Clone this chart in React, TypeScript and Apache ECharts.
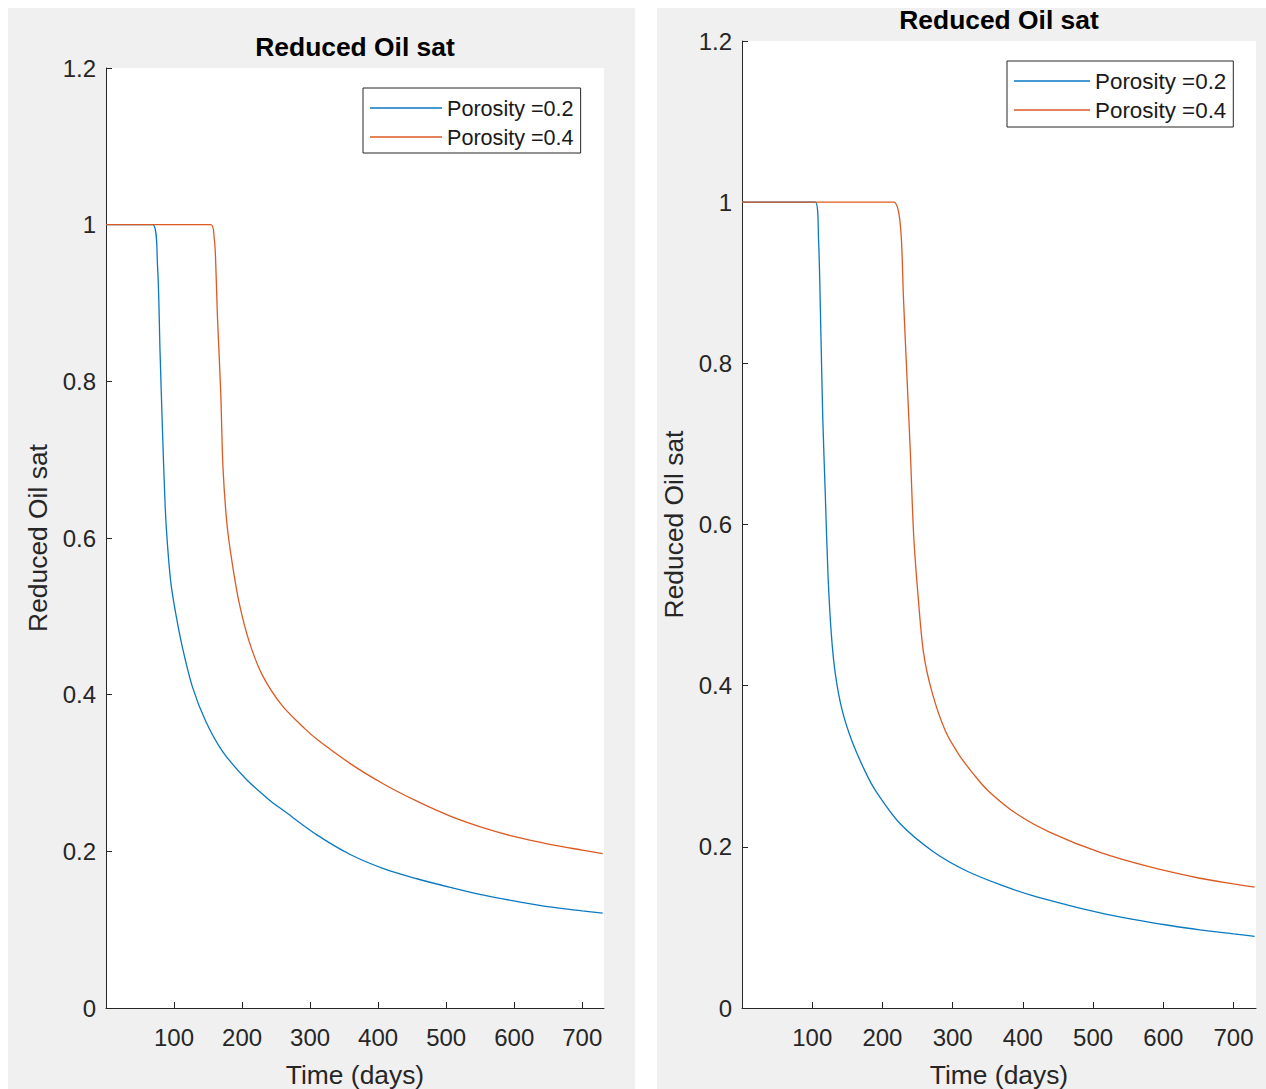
import React, { useEffect, useRef } from "react";
import * as echarts from "echarts";

// ---- Data (days, reduced oil saturation) ----
const leftPor02X = [0, 68.5, 75.7, 79.5, 83, 87, 90.4, 95.3, 102.6, 112.4, 127, 146.6, 171, 205, 239.5, 261, 310, 359, 408, 457, 506, 555, 604, 652, 700, 730];
const leftPor02Y = [1, 1, 0.948, 0.836, 0.738, 0.64, 0.591, 0.543, 0.503, 0.46, 0.41, 0.366, 0.328, 0.293, 0.266, 0.252, 0.221, 0.196, 0.178, 0.165, 0.154, 0.144, 0.136, 0.129, 0.124, 0.121];

const leftPor04X = [0, 154, 159, 161, 163.7, 168.6, 172, 178, 185.7, 195.5, 210, 229.8, 259, 293, 310, 359, 408, 457, 506, 555, 604, 652, 700, 730];
const leftPor04Y = [1, 1, 0.983, 0.958, 0.885, 0.787, 0.689, 0.616, 0.567, 0.518, 0.469, 0.425, 0.386, 0.356, 0.343, 0.312, 0.286, 0.264, 0.245, 0.23, 0.218, 0.209, 0.2015, 0.197];

const rightPor02X = [0, 104.5, 109, 112.5, 115, 118.7, 122.5, 127.3, 133, 142.5, 156.7, 175.7, 190, 225, 272.5, 320, 367.5, 415, 462.5, 510, 557, 605, 652, 700, 730];
const rightPor02Y = [1, 1, 0.954, 0.831, 0.733, 0.635, 0.537, 0.463, 0.414, 0.37, 0.331, 0.293, 0.27, 0.229, 0.194, 0.17, 0.153, 0.139, 0.128, 0.118, 0.11, 0.103, 0.097, 0.092, 0.089];

const rightPor04X = [0, 216, 223, 227, 230, 235, 240, 244.5, 250.7, 258.5, 270.6, 290, 310, 330, 350, 391, 438.7, 510, 581, 652, 700, 730];
const rightPor04Y = [1, 1, 0.988, 0.954, 0.88, 0.782, 0.684, 0.586, 0.512, 0.441, 0.392, 0.343, 0.313, 0.29, 0.27, 0.241, 0.218, 0.193, 0.175, 0.161, 0.154, 0.15];

const xTickValues = [100, 200, 300, 400, 500, 600, 700];
const seriesNames = ["Porosity =0.2", "Porosity =0.4"];
const chartTitle = "Reduced Oil sat";
const xName = "Time (days)";
const yName = "Reduced Oil sat";

const BLUE = "#0a79c2";
const ORANGE = "#db5a22";
const AXIS = "#262626";
const FONT = "'Liberation Sans', Arial, Helvetica, sans-serif";

function zip(xs: number[], ys: number[]) {
  return xs.map((x, i) => [x, ys[i]]);
}

export default function App() {
  const ref = useRef<HTMLDivElement>(null);

  useEffect(() => {
    document.body.style.margin = "0";
    if (!ref.current) return;
    const chart = echarts.init(ref.current, undefined, { renderer: "svg" });

    const xAxisBase = (gridIndex: number) => ({
      type: "value",
      gridIndex,
      min: 0,
      max: 732,
      interval: 100,
      name: xName,
      nameLocation: "middle",
      nameGap: 54,
      nameTextStyle: { fontSize: 26.4, color: AXIS, fontFamily: FONT },
      axisLine: { show: true, lineStyle: { color: AXIS, width: 1 } },
      axisTick: { show: true, inside: true, length: 6, customValues: xTickValues, lineStyle: { color: AXIS } },
      axisLabel: {
        customValues: xTickValues,
        fontSize: 24,
        color: AXIS,
        fontFamily: FONT,
        margin: 17,
        formatter: (v: number) => (v > 0 && v % 100 === 0 ? String(v) : ""),
      },
      splitLine: { show: false },
    });

    const yAxisBase = (gridIndex: number) => ({
      type: "value",
      gridIndex,
      min: 0,
      max: 1.2,
      interval: 0.2,
      name: yName,
      nameLocation: "middle",
      nameGap: 55,
      nameRotate: 90,
      nameTextStyle: { fontSize: 26.4, color: AXIS, fontFamily: FONT },
      axisLine: { show: true, lineStyle: { color: AXIS, width: 1 } },
      axisTick: { show: true, inside: true, length: 6, lineStyle: { color: AXIS } },
      axisLabel: { fontSize: 24, color: AXIS, fontFamily: FONT, margin: 10 },
      splitLine: { show: false },
    });

    const lineSeries = (name: string, color: string, data: number[][], idx: number) => ({
      type: "line",
      name,
      xAxisIndex: idx,
      yAxisIndex: idx,
      data,
      symbol: "none",
      smooth: 0.3,
      lineStyle: { color, width: 1.3 },
      itemStyle: { color },
      z: 3,
    });

    const legendBase = {
      data: seriesNames,
      orient: "vertical",
      icon: "rect",
      itemHeight: 1.6,
      borderColor: AXIS,
      borderWidth: 1,
      backgroundColor: "#ffffff",
      selectedMode: false,
    };

    const option: any = {
      animation: false,
      backgroundColor: "#ffffff",
      textStyle: { fontFamily: FONT },
      graphic: [
        { type: "rect", z: -10, shape: { x: 8, y: 8, width: 627, height: 1081 }, style: { fill: "#f0f0f0" } },
        { type: "rect", z: -10, shape: { x: 657, y: 8, width: 609, height: 1081 }, style: { fill: "#f0f0f0" } },
        { type: "rect", z: -9, shape: { x: 106, y: 68, width: 498, height: 940 }, style: { fill: "#ffffff" } },
        { type: "rect", z: -9, shape: { x: 742, y: 41, width: 514, height: 967 }, style: { fill: "#ffffff" } },
        {
          type: "text",
          x: 355,
          y: 47,
          style: { text: chartTitle, font: `bold 26.4px ${FONT}`, fill: "#000", textAlign: "center", textVerticalAlign: "middle" },
        },
        {
          type: "text",
          x: 999,
          y: 20,
          style: { text: chartTitle, font: `bold 26.4px ${FONT}`, fill: "#000", textAlign: "center", textVerticalAlign: "middle" },
        },
      ],
      grid: [
        { left: 106, top: 68, width: 498, height: 940, show: false, containLabel: false, outerBoundsMode: "none" },
        { left: 742, top: 41, width: 514, height: 967, show: false, containLabel: false, outerBoundsMode: "none" },
      ],
      xAxis: [xAxisBase(0), xAxisBase(1)],
      yAxis: [yAxisBase(0), yAxisBase(1)],
      legend: [
        {
          ...legendBase,
          left: 363,
          top: 88,
          padding: [9, 7, 5, 7],
          itemWidth: 72,
          itemGap: 7,
          textStyle: { fontSize: 21.6, color: "#1a1a1a", fontFamily: FONT },
        },
        {
          ...legendBase,
          left: 1007,
          top: 61,
          padding: [9, 7, 6, 7],
          itemWidth: 76,
          itemGap: 7,
          textStyle: { fontSize: 22.4, color: "#1a1a1a", fontFamily: FONT },
        },
      ],
      series: [
        lineSeries(seriesNames[0], BLUE, zip(leftPor02X, leftPor02Y), 0),
        lineSeries(seriesNames[1], ORANGE, zip(leftPor04X, leftPor04Y), 0),
        lineSeries(seriesNames[0], BLUE, zip(rightPor02X, rightPor02Y), 1),
        lineSeries(seriesNames[1], ORANGE, zip(rightPor04X, rightPor04Y), 1),
      ],
    };

    chart.setOption(option);
    return () => chart.dispose();
  }, []);

  return <div ref={ref} style={{ width: 1266, height: 1089 }} />;
}
